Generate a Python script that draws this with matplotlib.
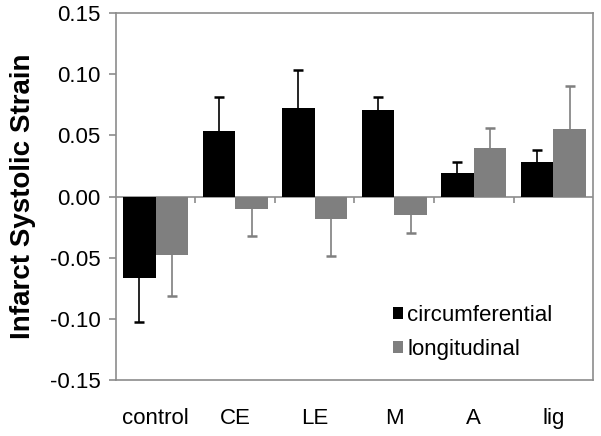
import matplotlib
matplotlib.use("Agg")
import matplotlib.pyplot as plt
import numpy as np

plt.rcParams["font.family"] = ["Liberation Sans", "DejaVu Sans"]

# data
categories = ["control", "CE", "LE", "M", "A", "lig"]
circumferential = [-0.0667, 0.054, 0.0727, 0.0705, 0.019, 0.0279]
circumferential_err = [0.036, 0.027, 0.031, 0.0105, 0.009, 0.0098]
longitudinal = [-0.048, -0.0098, -0.018, -0.0148, 0.0396, 0.0549]
longitudinal_err = [0.033, 0.0227, 0.031, 0.015, 0.0167, 0.0358]

frame_color = "#8c8c8c"
black = "black"
gray = "#7f7f7f"


def draw_series(ax, xpos, values, errs, color, label, width):
    """Bars with one-sided error bars pointing away from zero (Excel style)."""
    values = np.asarray(values)
    errs = np.asarray(errs)
    ends = values + np.sign(values) * errs
    ax.vlines(xpos, values, ends, color=color, lw=1.2, zorder=1)
    ax.plot(xpos, ends, ls="none", marker="_", markersize=7,
            markeredgewidth=1.8, color=color, zorder=1)
    ax.bar(xpos, values, width, color=color, label=label, zorder=2)


fig = plt.figure(figsize=(6.01, 4.36), dpi=100)
ax = fig.add_axes([0.193, 0.1284, 0.7937, 0.8416])

x = np.arange(len(categories))
width = 0.41

draw_series(ax, x - width / 2, circumferential, circumferential_err, black,
            "circumferential", width)
draw_series(ax, x + width / 2, longitudinal, longitudinal_err, gray,
            "longitudinal", width)

# zero line with category boundary ticks
ax.axhline(0, color=frame_color, lw=1.2, zorder=0.5)
boundaries = x[1:] - 0.5
ax.vlines(boundaries, -0.005, 0, color=frame_color, lw=1.2)

ax.set_xlim(-0.5, len(categories) - 0.5)
ax.set_ylim(-0.15, 0.15)
yticks = np.arange(-0.15, 0.151, 0.05)
ax.set_yticks(yticks)
ax.set_yticklabels([f"{v:.2f}" for v in yticks])
ax.set_xticks(x)
ax.set_xticklabels(categories)

for s in ax.spines.values():
    s.set_color(frame_color)
    s.set_linewidth(1.2)

ax.tick_params(axis="y", length=5, width=1.2, color=frame_color, labelsize=16, pad=6)
ax.tick_params(axis="x", length=0, labelsize=16, pad=20)

ax.set_ylabel("Infarct Systolic Strain", fontsize=20, fontweight="bold", labelpad=10)

ax.legend(loc="upper left", bbox_to_anchor=(0.58, 0.205), frameon=False,
          fontsize=16, handlelength=0.45, handleheight=0.45, handletextpad=0.2,
          borderpad=0, borderaxespad=0, labelspacing=0.6)

fig.savefig("out.png", dpi=100)
